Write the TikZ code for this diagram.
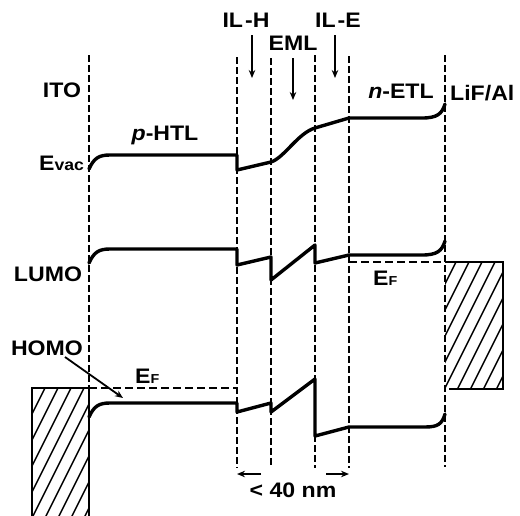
\documentclass[tikz,border=0pt]{standalone}
\usepackage{fontspec}
\setmainfont{Liberation Sans}[FakeStretch=1.1]
\usetikzlibrary{arrows.meta}
\begin{document}
\begin{tikzpicture}[x=1pt,y=-1pt,
  band/.style={line width=3.4pt, line join=round, line cap=round},
  bound/.style={line width=2.3pt, dash pattern=on 7pt off 3pt},
  fermi/.style={line width=2.8pt, dash pattern=on 8pt off 4pt},
  lbl/.style={font=\fontsize{21}{24}\selectfont\bfseries, inner sep=0pt},
  ptr/.style={line width=1.8pt, -{Stealth[length=8pt,width=6.5pt]}},
  metal/.style={line width=2.4pt},
  hatch/.style={line width=1.4pt}
]
\useasboundingbox (0,0) rectangle (520,515);
% layer boundaries
\draw[bound] (89,55) -- (89,388);
\draw[bound] (237,57) -- (237,468);
\draw[bound] (271,58) -- (271,468);
\draw[bound] (315,55) -- (315,468);
\draw[bound] (349,56) -- (349,468);
\draw[bound] (445,55) -- (445,467);
% metal electrodes
\begin{scope}
  \clip (32,388) rectangle (89,520);
  \foreach \i in {-2,...,10} \draw[hatch] (\i*13,530) -- ++(100,-200);
\end{scope}
\draw[metal] (89,520) -- (89,388) -- (32,388) -- (32,520);
\begin{scope}
  \clip (445,262) rectangle (503,389);
  \foreach \i in {-2,...,10} \draw[hatch] (400+\i*13,400) -- ++(100,-200);
\end{scope}
\draw[metal] (445,262) -- (503,262) -- (503,389) -- (449,389);
% Fermi levels
\draw[fermi] (89,388) -- (237,388);
\draw[fermi] (349,262) -- (445,262);
% vacuum level
\draw[band] (89,169) .. controls (94,158) and (99,155) .. (110,155) -- (237,155) -- (237,170) -- (271,162)
  .. controls (284,158) and (298,133) .. (315,128) -- (349,118) -- (422,118)
  .. controls (437,118) and (442,114) .. (445,104);
% LUMO
\draw[band] (89,263) .. controls (94,252) and (99,249) .. (110,249) -- (237,249) -- (237,265) -- (271,257)
  -- (271,280) -- (315,245) -- (315,263) -- (349,255) -- (422,255)
  .. controls (437,255) and (442,251) .. (445,241);
% HOMO
\draw[band] (89,417) .. controls (94,406) and (99,403) .. (110,403) -- (237,403) -- (237,412) -- (271,403)
  -- (271,412) -- (315,379) -- (315,436) -- (349,427) -- (425,427)
  .. controls (438,427) and (442,424) .. (445,414);
% labels
\node[lbl, anchor=base] (ito) at (62,97) {ITO};
\node[lbl, anchor=base] (phtl) at (165,140) {\itshape p\upshape-HTL};
\node[lbl, anchor=base west] (evac) at (39,170) {E{\fontsize{16}{18}\selectfont vac}};
\node[lbl, anchor=base] (ilh) at (246,27) {IL\kern2pt-H};
\node[lbl, anchor=base] (eml) at (293,50) {EML};
\node[lbl, anchor=base] (ile) at (338,27) {IL\kern2pt-E};
\node[lbl, anchor=base] (netl) at (401,98) {\itshape n\upshape-ETL};
\node[lbl, anchor=base west] (lifal) at (450,100) {LiF/Al};
\node[lbl, anchor=base] (lumo) at (48,281) {LUMO};
\node[lbl, anchor=base] (homo) at (47,355) {HOMO};
\node[lbl, anchor=base west] (efl) at (135,383) {E{\fontsize{13}{15}\selectfont F}};
\node[lbl, anchor=base west] (efr) at (373,285) {E{\fontsize{13}{15}\selectfont F}};
\node[lbl, anchor=base] (dist) at (293,497) {< 40 nm};
% arrows
\coordinate (ilhA) at (252,35); \coordinate (ilhB) at (252,78);
\coordinate (emlA) at (293,58); \coordinate (emlB) at (293,100);
\coordinate (ileA) at (335,35); \coordinate (ileB) at (335,78);
\coordinate (homoA) at (65,357); \coordinate (homoB) at (123,398);
\coordinate (dl0) at (261,474); \coordinate (dl1) at (237,474);
\coordinate (dr0) at (326,474); \coordinate (dr1) at (349,474);
\draw[ptr] (ilhA) -- (ilhB);
\draw[ptr] (emlA) -- (emlB);
\draw[ptr] (ileA) -- (ileB);
\draw[ptr] (homoA) -- (homoB);
\draw[ptr] (dl0) -- (dl1);
\draw[ptr] (dr0) -- (dr1);
\end{tikzpicture}
\end{document}
